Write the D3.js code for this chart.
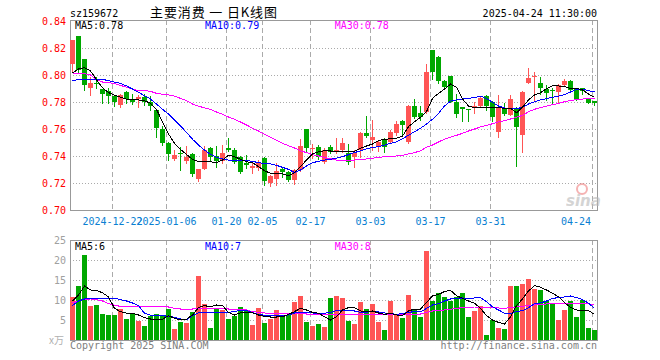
<!DOCTYPE html>
<html>
<head>
<meta charset="utf-8">
<script src="https://cdn.jsdelivr.net/npm/d3@7"></script>
<style>
  body{margin:0;background:#fff;}
  svg{display:block;}
  text{font-family:"DejaVu Sans Mono",monospace;font-size:10px;}
</style>
</head>
<body>
<svg id="kline" width="660" height="360"></svg>
<script>
/* ---------- daily candles ---------- */
const open = [
  0.808,0.8289,0.8119,0.7906,0.7943,0.7896,0.7879,0.7844,0.778,0.7874,
  0.7822,0.782,0.7835,0.7802,0.7741,0.76,0.7494,0.7378,0.742,0.7363,
  0.7415,0.7227,0.7305,0.7461,0.74,0.7365,0.7461,0.7444,0.7395,0.7345,
  0.7309,0.7309,0.7387,0.7202,0.7227,0.7304,0.7284,0.7222,0.7296,0.76,
  0.7452,0.7469,0.7358,0.7469,0.7432,0.7444,0.7424,0.7395,0.7444,0.7573,
  0.7519,0.7469,0.7519,0.7506,0.7568,0.7661,0.7506,0.777,0.772,0.7728,
  0.8185,0.8136,0.7958,0.7993,0.7802,0.776,0.7748,0.7753,0.777,0.7844,
  0.7802,0.758,0.7753,0.7704,0.7753,0.7556,0.7943,0.7983,0.7943,0.7894,
  0.7886,0.7876,0.7926,0.7958,0.7894,0.79,0.7827,0.7805];
const high = [
  0.826,0.8289,0.8119,0.7987,0.7987,0.7896,0.7901,0.785,0.786,0.788,
  0.7859,0.7854,0.7859,0.7844,0.7741,0.7624,0.7506,0.7444,0.7469,0.7474,
  0.742,0.7304,0.7474,0.7469,0.7474,0.748,0.7531,0.7461,0.74,0.741,
  0.7346,0.737,0.739,0.726,0.735,0.7309,0.729,0.73,0.7524,0.76,
  0.7489,0.748,0.7461,0.748,0.753,0.753,0.7489,0.7444,0.7575,0.7696,
  0.7667,0.7518,0.753,0.759,0.7659,0.767,0.778,0.7824,0.777,0.8078,
  0.8185,0.814,0.796,0.7995,0.7859,0.776,0.7748,0.7802,0.7844,0.785,
  0.7805,0.7852,0.7795,0.7852,0.776,0.788,0.805,0.8019,0.7983,0.7926,
  0.7901,0.793,0.7968,0.796,0.79,0.7905,0.783,0.781];
const low = [
  0.8024,0.802,0.7889,0.7852,0.7901,0.7795,0.7795,0.777,0.7761,0.7791,
  0.7785,0.7765,0.7778,0.7741,0.7541,0.7481,0.737,0.737,0.7296,0.735,
  0.7252,0.7215,0.73,0.7374,0.732,0.7345,0.7439,0.735,0.7276,0.731,
  0.7272,0.7296,0.7185,0.718,0.7185,0.7247,0.7215,0.7193,0.729,0.7432,
  0.7387,0.7376,0.735,0.742,0.742,0.743,0.7341,0.7321,0.7395,0.7541,
  0.7445,0.744,0.7432,0.75,0.7556,0.7556,0.7498,0.768,0.767,0.772,
  0.797,0.7939,0.79,0.78,0.7691,0.7657,0.7657,0.7716,0.7765,0.7741,
  0.7657,0.7543,0.77,0.77,0.7328,0.743,0.7939,0.7815,0.7859,0.7815,
  0.7795,0.7795,0.792,0.788,0.7815,0.786,0.779,0.778];
const close = [
  0.826,0.8037,0.7926,0.7943,0.7932,0.7859,0.7844,0.7798,0.7854,0.7824,
  0.7798,0.7839,0.7798,0.777,0.7605,0.7494,0.7413,0.7407,0.7413,0.7395,
  0.7267,0.7304,0.7444,0.739,0.7365,0.742,0.7444,0.7358,0.7284,0.733,
  0.7326,0.7358,0.7217,0.7254,0.7289,0.7284,0.7222,0.7296,0.7474,0.7461,
  0.7461,0.739,0.7444,0.7432,0.7444,0.7494,0.7358,0.7424,0.7568,0.7548,
  0.7543,0.7506,0.7469,0.758,0.7637,0.763,0.777,0.7691,0.7691,0.8024,
  0.8019,0.7958,0.7909,0.7802,0.7711,0.7746,0.7744,0.777,0.7827,0.777,
  0.7691,0.7753,0.7711,0.782,0.7613,0.7876,0.7976,0.7993,0.7901,0.7864,
  0.7883,0.7926,0.7958,0.7889,0.782,0.788,0.7795,0.7795];

/* price moving averages */
const ma5 = [
  0.8015,0.8045,0.8054,0.803,0.7965,0.7905,0.787,0.785,0.7835,0.7822,
  0.7815,0.7815,0.781,0.779,0.7745,0.7654,0.7563,0.7494,0.7449,0.7412,
  0.7375,0.7358,0.7358,0.7358,0.735,0.737,0.7407,0.7395,0.7375,0.7358,
  0.735,0.7321,0.7291,0.7272,0.7267,0.7267,0.7254,0.7277,0.7321,0.737,
  0.7415,0.7432,0.7439,0.7437,0.7432,0.7432,0.7432,0.7435,0.7457,0.7474,
  0.7489,0.7514,0.7524,0.7527,0.7531,0.7548,0.7617,0.7654,0.7687,0.7728,
  0.7827,0.7864,0.7896,0.7933,0.7909,0.7822,0.777,0.7759,0.7761,0.7761,
  0.7761,0.7759,0.7753,0.7753,0.772,0.7761,0.7815,0.7852,0.7869,0.7899,
  0.7919,0.7919,0.7914,0.7901,0.7901,0.7889,0.7859,0.7835];
const ma10 = [
  0.7956,0.7968,0.797,0.797,0.797,0.7968,0.7958,0.7948,0.7938,0.7919,
  0.7896,0.7872,0.7847,0.7822,0.7785,0.7746,0.7711,0.7667,0.7622,0.7575,
  0.7524,0.7481,0.7444,0.7412,0.739,0.7378,0.737,0.737,0.7365,0.7365,
  0.7361,0.735,0.7346,0.7341,0.7331,0.7316,0.7301,0.7277,0.7296,0.7326,
  0.735,0.7361,0.737,0.7375,0.7385,0.7395,0.741,0.7425,0.7439,0.7454,
  0.7464,0.7469,0.7481,0.7494,0.7504,0.7528,0.7553,0.758,0.7605,0.7637,
  0.7672,0.7716,0.777,0.7807,0.7815,0.7822,0.7827,0.7833,0.7844,0.7826,
  0.7798,0.777,0.7756,0.775,0.775,0.7761,0.7785,0.7802,0.7815,0.7825,
  0.7835,0.7844,0.7854,0.7874,0.7894,0.7896,0.7884,0.7874];
const ma30 = [
  0.8012,0.8012,0.801,0.8,0.7968,0.7948,0.7943,0.7938,0.7923,0.7909,
  0.7894,0.7884,0.7884,0.7879,0.7864,0.7857,0.7852,0.7844,0.7827,0.781,
  0.7785,0.777,0.7756,0.7746,0.7726,0.7709,0.7689,0.7672,0.7652,0.763,
  0.7605,0.7585,0.7561,0.7539,0.7516,0.7494,0.7476,0.7459,0.7439,0.7425,
  0.741,0.74,0.739,0.738,0.737,0.737,0.737,0.737,0.7373,0.7378,
  0.7383,0.739,0.7395,0.7395,0.74,0.7405,0.7415,0.7425,0.7439,0.7464,
  0.7481,0.7504,0.7524,0.7539,0.7553,0.7568,0.7585,0.76,0.7615,0.7627,
  0.7639,0.7652,0.7661,0.7674,0.7687,0.7701,0.7728,0.7746,0.7759,0.777,
  0.778,0.779,0.7802,0.7812,0.7817,0.7822,0.7825,0.7825];

/* volume (x万) and its moving averages */
const vol = [
  10.8,13.5,21.25,8.5,8.75,6.5,6.25,6.2,7.75,5.25,
  6.7,4.75,3.5,6.1,6.4,6.0,7.75,2.75,4.5,4.2,
  6.9,16.0,9.0,2.9,7.9,7.5,5.25,6.1,8.25,7.5,
  3.75,8.0,4.25,5.25,7.5,6.0,6.25,9.5,11.0,4.5,
  3.5,4.0,3.25,10.5,11.0,10.5,4.75,4.0,9.5,7.75,
  9.0,4.5,2.5,9.75,6.5,5.5,11.25,7.75,5.75,22.25,
  9.75,11.75,10.75,9.75,10.75,11.75,5.75,7.25,8.5,1.25,
  5.0,3.0,2.75,13.5,13.5,14.0,15.25,12.75,12.5,9.75,
  9.0,5.0,7.5,9.75,5.75,10.0,3.0,2.5];
const volMa5 = [
  9.75,11.25,13.5,12.5,12.4,11.8,10.8,7.9,7.1,6.7,
  6.7,6.25,5.6,5.25,5.25,5.2,6.1,5.4,5.0,5.2,
  6.25,8.1,8.6,8.3,8.75,8.6,6.9,6.25,6.8,6.9,
  6.8,6.25,5.9,5.75,5.75,5.8,6.4,7.1,7.9,7.5,
  6.9,6.7,5.8,5.0,5.8,7.5,8.1,8.1,7.25,7.1,
  7.25,6.75,6.4,6.7,6.25,6.1,7.25,7.75,7.75,9.4,
  11.0,11.4,12.1,12.4,11.1,10.4,9.75,9.2,7.9,6.1,
  5.0,4.4,4.0,5.8,8.6,10.25,12.25,13.6,13.2,12.5,
  11.7,10.8,9.3,8.2,7.5,7.4,7.35,6.4];
const volMa10 = [
  8.6,9.75,10.25,10.3,10.4,10.4,10.4,10.4,10.1,9.75,
  9.25,8.6,6.7,6.2,6.1,6.1,5.9,5.7,5.25,5.1,
  6.1,6.8,6.9,6.9,6.9,6.9,6.9,7.1,7.4,7.4,
  6.9,6.4,6.2,6.1,6.1,6.1,6.25,6.75,6.9,6.8,
  6.75,6.7,6.7,6.9,7.35,7.5,7.4,7.25,6.9,6.9,
  7.25,7.0,6.75,6.6,6.4,6.6,6.9,7.1,7.0,7.9,
  8.75,9.1,9.75,10.25,10.3,10.5,10.4,10.5,10.6,9.6,
  8.3,7.5,6.7,6.6,7.1,7.35,8.1,9.1,9.25,9.75,
  10.4,10.6,10.75,11.0,10.6,10.1,9.2,7.9];
const volMa30 = [
  9.25,9.75,10.2,10.25,10.1,9.75,9.1,8.7,8.4,8.3,
  8.3,8.3,8.3,8.3,8.3,8.3,8.25,7.9,7.75,7.75,
  7.75,7.9,7.85,7.85,7.85,7.85,7.75,7.75,7.7,7.5,
  7.1,6.9,6.75,6.7,6.7,6.7,6.7,6.7,6.7,6.5,
  6.5,6.5,6.5,6.5,6.5,6.5,6.5,6.5,6.5,6.5,
  6.5,6.5,6.5,6.5,6.5,6.5,6.5,6.5,6.5,6.9,
  7.25,7.35,7.5,7.7,7.9,8.1,8.2,8.25,8.25,8.2,
  8.1,8.0,7.9,8.1,8.25,8.4,8.6,8.75,8.9,9.0,
  9.1,9.1,9.1,9.1,9.1,9.1,9.0,8.9];

/* axis ticks */
const dateTickIdx   = [7, 16, 26, 32, 40, 50, 60, 70, 87];
const dateTickLabel = ['2024-12-22','2025-01-06','01-20','02-05','02-17','03-03','03-17','03-31','04-24'];
const priceTicks = [0.70, 0.72, 0.74, 0.76, 0.78, 0.80, 0.82, 0.84];
const volTicks   = [5, 10, 15, 20, 25];

/* ---------- layout & scales ---------------------------- */
const svg = d3.select('#kline');
const L = 70, R = 598, PT = 20, PB = 210, VT = 240, VB = 340;
const RED = '#ff5555', GREEN = '#00a800', GRID = '#aaaaaa', FRAME = '#999999';

const x = d3.scaleBand()
  .domain(d3.range(open.length))
  .range([L, R])
  .paddingInner(1/6).paddingOuter(1/12).align(0);
const bw = x.bandwidth();
const cx = i => x(i) + bw/2;

const y  = d3.scaleLinear().domain([0.70, 0.84]).range([PB, 21]);
const yv = d3.scaleLinear().domain([0, 25]).range([VB, VT]);

const up = i => close[i] > open[i];
const px = v => Math.round(v) + 0.5;

/* ---------- grids & frames ----------------------------- */
function panel(top, bottom, yTicks, scale){
  const g = svg.append('g').attr('shape-rendering','crispEdges');
  g.selectAll('.hg').data(yTicks).enter().append('line')
    .attr('x1', L).attr('x2', R - 1)
    .attr('y1', d => px(scale(d))).attr('y2', d => px(scale(d)))
    .attr('stroke', GRID).attr('stroke-dasharray','1,2');
  g.selectAll('.vg').data(dateTickIdx).enter().append('line')
    .attr('x1', d => x(d) + 0.5).attr('x2', d => x(d) + 0.5)
    .attr('y1', top).attr('y2', bottom)
    .attr('stroke', GRID).attr('stroke-dasharray','5,3');
  g.append('rect')
    .attr('x', L + 0.5).attr('y', top + 0.5)
    .attr('width', R - L - 1).attr('height', bottom - top)
    .attr('fill','none').attr('stroke', FRAME);
}
panel(PT, PB, priceTicks.filter(d => d > 0.70 && d < 0.84), y);
panel(VT, VB, volTicks.filter(d => d < 25), yv);

/* ---------- candles ------------------------------------ */
const cg = svg.append('g').attr('shape-rendering','crispEdges');
const idx = d3.range(open.length);

cg.selectAll('.wick').data(idx).enter().append('line')
  .attr('x1', i => Math.floor(cx(i)) + 0.5).attr('x2', i => Math.floor(cx(i)) + 0.5)
  .attr('y1', i => Math.round(y(high[i]))).attr('y2', i => Math.round(y(low[i])) + 1)
  .attr('stroke', i => up(i) ? RED : GREEN);

cg.selectAll('.body').data(idx).enter().append('rect')
  .attr('x', i => x(i))
  .attr('y', i => Math.round(y(Math.max(open[i], close[i]))))
  .attr('width', bw)
  .attr('height', i => Math.max(1, Math.round(y(Math.min(open[i], close[i]))) - Math.round(y(Math.max(open[i], close[i])))))
  .attr('fill', i => up(i) ? RED : GREEN);

/* ---------- volume bars -------------------------------- */
cg.selectAll('.vol').data(idx).enter().append('rect')
  .attr('x', i => x(i))
  .attr('y', i => Math.round(yv(vol[i])))
  .attr('width', bw)
  .attr('height', i => VB - Math.round(yv(vol[i])))
  .attr('fill', i => up(i) ? RED : GREEN);

/* ---------- moving average lines (aliased, like the source) ---- */
function maLine(arr, scale, colour){
  svg.append('path')
    .datum(arr)
    .attr('d', d3.line().x((d, i) => Math.floor(cx(i)) + 0.5).y(d => scale(d)))
    .attr('fill','none').attr('stroke', colour).attr('stroke-width', 1)
    .attr('shape-rendering','crispEdges');
}
maLine(ma30, y, '#ff00ff'); maLine(ma10, y, '#0000ff'); maLine(ma5, y, '#000000');
maLine(volMa30, yv, '#ff00ff'); maLine(volMa10, yv, '#0000ff'); maLine(volMa5, yv, '#000000');

/* ---------- axis labels -------------------------------- */
svg.selectAll('.py').data(priceTicks).enter().append('text')
  .attr('x', 66).attr('y', d => y(d) + 3.5)
  .attr('text-anchor','end').attr('fill','#ff0000')
  .text(d => d.toFixed(2));

svg.selectAll('.vy').data(volTicks).enter().append('text')
  .attr('x', 66).attr('y', d => yv(d) + 3.5)
  .attr('text-anchor','end').attr('fill','#a0a0a0')
  .text(d => d);
svg.append('text').attr('x', 49).attr('y', 344).attr('fill','#b0b0b0')
  .style('font-family','"Noto Sans CJK SC", sans-serif').style('font-size','10px')
  .text('x万');

svg.selectAll('.dx').data(dateTickIdx).enter().append('text')
  .attr('x', (d, i) => {
    const w = dateTickLabel[i].length * 6;
    return Math.min(x(d) + 0.5, 591 - w/2);
  })
  .attr('y', 224.5)
  .attr('text-anchor','middle').attr('fill','#0a7fd2')
  .text((d, i) => dateTickLabel[i]);

/* ---------- headers & legends -------------------------- */
svg.append('text').attr('x', 70).attr('y', 16.5).attr('fill','#000').text('sz159672');
svg.append('text').attr('x', 150).attr('y', 17).attr('fill','#000')
  .attr('textLength', 127).attr('lengthAdjust', 'spacing')
  .style('font-family','"Noto Sans CJK SC", sans-serif').style('font-size','13px')
  .style('white-space','pre')
  .text('主要消费 一 日K线图');
svg.append('text').attr('x', 597).attr('y', 16.5).attr('text-anchor','end').attr('fill','#000')
  .text('2025-04-24 11:30:00');

const legend = [
  {t:'MA5:0.78',  c:'#000000', x:75,    y:29},
  {t:'MA10:0.79', c:'#0000ff', x:205,   y:29},
  {t:'MA30:0.78', c:'#ff00ff', x:334.7, y:29},
  {t:'MA5:6',     c:'#000000', x:75,    y:250},
  {t:'MA10:7',    c:'#0000ff', x:205,   y:250},
  {t:'MA30:8',    c:'#ff00ff', x:334.7, y:250}
];
svg.selectAll('.lg').data(legend).enter().append('text')
  .attr('x', d => d.x).attr('y', d => d.y).attr('fill', d => d.c).text(d => d.t);

svg.append('text').attr('x', 70).attr('y', 349).attr('fill','#808080').text('Copyright 2025 SINA.COM');
svg.append('text').attr('x', 597).attr('y', 349).attr('text-anchor','end').attr('fill','#808080')
  .text('http://finance.sina.com.cn');

/* sina watermark */
const wm = svg.append('g').attr('opacity', 0.6);
wm.append('circle').attr('cx', 582).attr('cy', 189).attr('r', 5)
  .attr('fill','none').attr('stroke','#f08080').attr('stroke-width', 2);
wm.append('text').attr('x', 566).attr('y', 206)
  .style('font-family','"DejaVu Sans", sans-serif').style('font-size','15px')
  .style('font-style','italic').style('font-weight','bold')
  .attr('fill','#b8b8b8').text('sina');
</script>
</body>
</html>
